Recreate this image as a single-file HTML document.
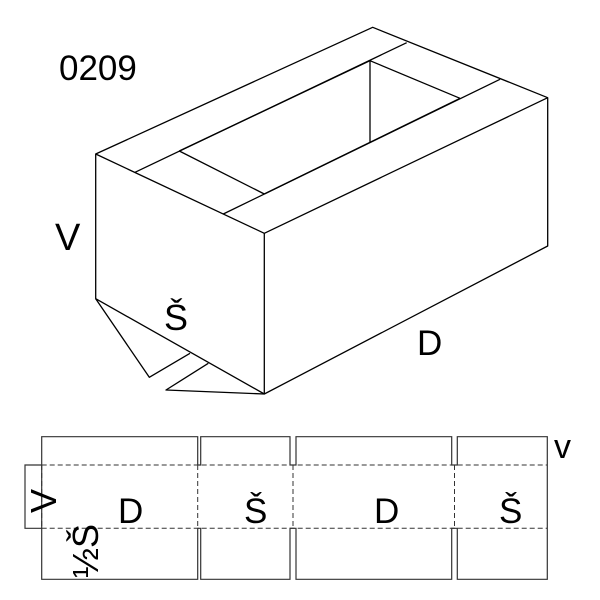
<!DOCTYPE html>
<html><head><style>
html,body{margin:0;padding:0;background:#fff;}
svg{display:block;}
text{font-family:"Liberation Sans",Arial,sans-serif;fill:#000;}
</style></head><body>
<svg width="600" height="600" viewBox="0 0 600 600" xmlns="http://www.w3.org/2000/svg">
<g stroke="#000" stroke-width="1.3" fill="none" stroke-linejoin="round">
<polygon points="372.7,27.3 547.7,97.7 547.7,246 264.3,394 95.7,298.7 95.7,154"/>
<polyline points="95.7,154 264.3,233.3 547.7,97.7"/>
<line x1="264.3" y1="233.3" x2="264.3" y2="394"/>
<line x1="135" y1="172.3" x2="406.7" y2="42.7"/>
<line x1="223.3" y1="214" x2="500" y2="79.3"/>
<line x1="179.3" y1="151" x2="264.3" y2="194"/>
<line x1="179.3" y1="151" x2="370" y2="60.7"/>
<line x1="370" y1="60.7" x2="460" y2="98.3"/>
<line x1="264.3" y1="194" x2="460" y2="98.3"/>
<line x1="370" y1="60.7" x2="370" y2="142.3"/>
<polyline points="95.7,298.7 149.3,377.3 190,353.3"/>
<polyline points="208.3,363.3 166,390 264.3,394"/>
</g>
<g stroke="#333" stroke-width="1.2" fill="none">
<polyline points="197.7,465 197.7,436.7 41.7,436.7 41.7,579.3 197.7,579.3 197.7,528.3"/>
<polyline points="197.7,465 200.7,465 200.7,436.7 290,436.7 290,465 296,465 296,436.7 451.7,436.7 451.7,465 457.3,465 457.3,436.7 547.3,436.7 547.3,579.3 457.3,579.3 457.3,528.3 451.7,528.3 451.7,579.3 296,579.3 296,528.3 290,528.3 290,579.3 200.7,579.3 200.7,528.3 197.7,528.3"/>
<polyline points="41.7,465 25,465 25,528.3 41.7,528.3"/>
</g>
<g stroke="#333" stroke-width="1" stroke-dasharray="5,3" fill="none">
<line x1="41.7" y1="465" x2="547.3" y2="465"/>
<line x1="41.7" y1="528.3" x2="547.3" y2="528.3"/>
<line x1="41.7" y1="465" x2="41.7" y2="528.3"/>
<line x1="197.7" y1="465" x2="197.7" y2="528.3"/>
<line x1="293" y1="465" x2="293" y2="528.3"/>
<line x1="454.5" y1="465" x2="454.5" y2="528.3"/>
</g>
<text x="59" y="80" font-size="35">0209</text>
<text x="55" y="250" font-size="38">V</text>
<text x="164" y="330" font-size="36">Š</text>
<text x="417" y="355" font-size="35">D</text>
<text x="118" y="523" font-size="35">D</text>
<text x="244" y="523" font-size="35">Š</text>
<text x="374" y="523" font-size="35">D</text>
<text x="499" y="523" font-size="35">Š</text>
<text x="554" y="458" font-size="34">v</text>
<text transform="translate(56,513) rotate(-90)" font-size="36">V</text>
<text transform="translate(98,578) rotate(-90)" font-size="36">½Š</text>
</svg>
</body></html>
